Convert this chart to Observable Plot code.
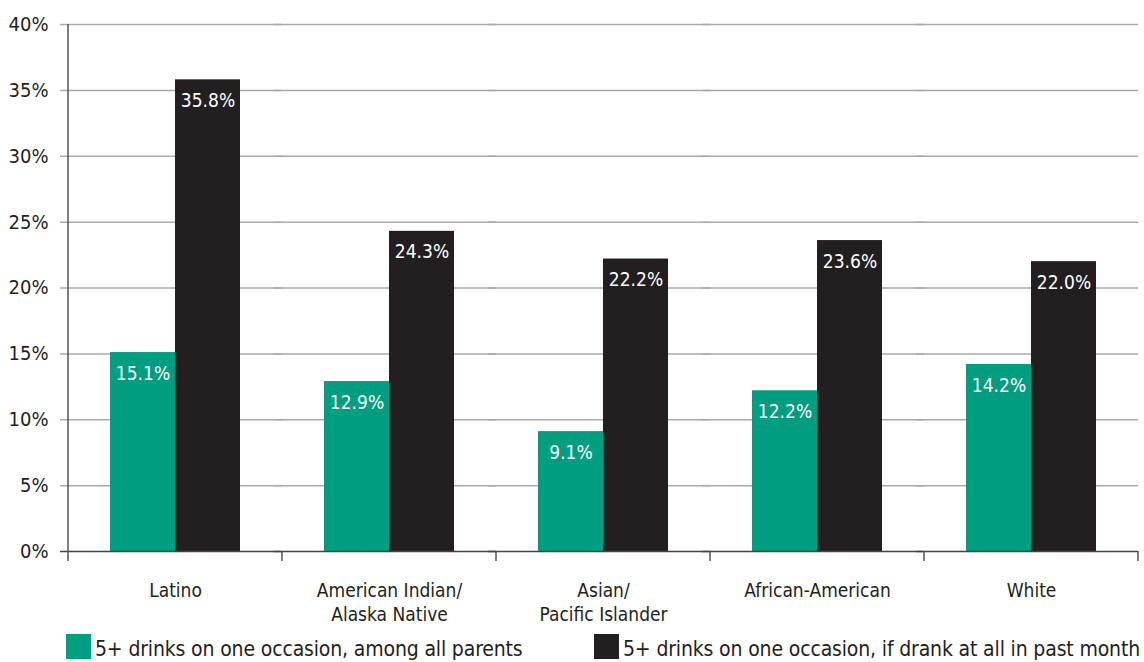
<!DOCTYPE html>
<html>
<head>
<meta charset="utf-8">
<script src="https://cdn.jsdelivr.net/npm/d3@7"></script>
<script src="https://cdn.jsdelivr.net/npm/@observablehq/plot@0.6"></script>
<style>
  body { margin: 0; background: #fff; font-family: "DejaVu Sans Condensed", sans-serif; color: #231f20; }
  #legend { position: relative; height: 32px; margin-top: 4px; font-size: 21px; letter-spacing: -0.15px; }
  .item { position: absolute; top: 0; display: flex; align-items: flex-start; white-space: nowrap; }
  .sw { width: 25px; height: 25px; margin-right: 4px; }
  .lt { line-height: 1; margin-top: 5px; }
</style>
</head>
<body>
<div id="chart"></div>
<div id="legend"></div>
<script>
const categories = ["Latino", "American Indian/\nAlaska Native", "Asian/\nPacific Islander", "African-American", "White"];
const series = ["5+ drinks on one occasion, among all parents", "5+ drinks on one occasion, if drank at all in past month"];
const allParents = [15.1, 12.9, 9.1, 12.2, 14.2];
const ifDrank = [35.8, 24.3, 22.2, 23.6, 22.0];
const yTicks = [0, 5, 10, 15, 20, 25, 30, 35, 40];
const colors = ["#009e80", "#231f20"];

const data = [];
categories.forEach((c, i) => {
  data.push({cat: c, s: series[0], v: allParents[i]});
  data.push({cat: c, s: series[1], v: ifDrank[i]});
});

const font = '"DejaVu Sans Condensed", sans-serif';

const chart = Plot.plot({
  width: 1144,
  height: 630,
  marginLeft: 66,
  marginRight: 4,
  marginTop: 24,
  marginBottom: 79,
  style: {fontFamily: font, fontSize: "20px", color: "#231f20", background: "#fff"},
  fx: {domain: categories, padding: 0, axis: null},
  x: {domain: series, paddingInner: 0, paddingOuter: 0.64, axis: null},
  y: {domain: [0, 40], ticks: yTicks, tickFormat: d => d + "%", tickSize: 0, tickPadding: 20, label: null},
  color: {domain: series, range: colors},
  marks: [
    Plot.ruleY(yTicks.filter(d => d > 0), {stroke: "#aaaaaa", strokeWidth: 1.5, insetLeft: -8}),
    Plot.barY(data, {fx: "cat", x: "s", y: "v", fill: "s"}),
    Plot.ruleY([0], {stroke: "#444", strokeWidth: 1.5, insetLeft: -8}),
    Plot.text(data, {fx: "cat", x: "s", y: "v", text: d => d.v.toFixed(1) + "%", dy: 21, fill: "white", fontSize: 19}),
    Plot.text(categories, {fx: d => d, text: d => d, frameAnchor: "bottom", lineAnchor: "top", dy: 29, fontSize: 19, fill: "#231f20", lineHeight: 1.25})
  ]
});
document.getElementById("chart").appendChild(chart);

// axis line on the left and category boundary ticks, from the fx scale
const fx = chart.scale("fx");
const yS = chart.scale("y");
const svg = d3.select(chart);
const y0 = yS.apply(0), yTop = yS.apply(40);
const edges = categories.map(c => fx.apply(c));
edges.push(fx.apply(categories[categories.length - 1]) + fx.bandwidth);
svg.append("line").attr("x1", edges[0]).attr("x2", edges[0]).attr("y1", yTop).attr("y2", y0 + 10)
  .attr("stroke", "#555").attr("stroke-width", 1.5);
edges.slice(1).forEach(x => {
  svg.append("line").attr("x1", x).attr("x2", x).attr("y1", y0).attr("y2", y0 + 10)
    .attr("stroke", "#555").attr("stroke-width", 1.5);
});

// legend
const legend = document.getElementById("legend");
const lefts = [66, 594];
series.forEach((s, i) => {
  const it = document.createElement("div");
  it.className = "item";
  it.style.left = lefts[i] + "px";
  it.innerHTML = `<div class="sw" style="background:${colors[i]}"></div><div class="lt">${s}</div>`;
  legend.appendChild(it);
});
</script>
</body>
</html>
